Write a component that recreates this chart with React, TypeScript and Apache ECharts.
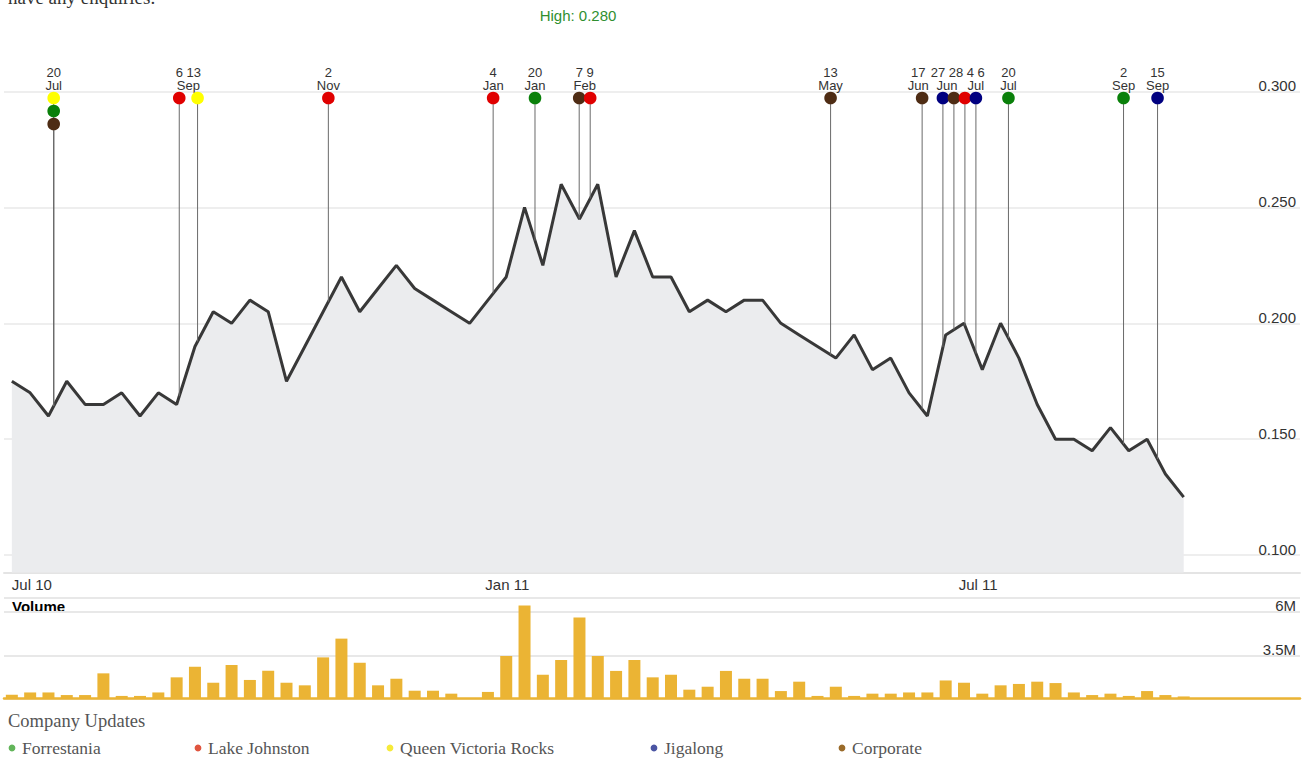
import React, { useEffect, useRef } from 'react';
import * as echarts from 'echarts';

// ---------- data ----------
const startDate = '2010-07-04'; // first weekly close
const closePrices = [
  0.175, 0.170, 0.160, 0.175, 0.165, 0.165, 0.170, 0.160, 0.170, 0.165,
  0.190, 0.205, 0.200, 0.210, 0.205, 0.175, 0.190, 0.205, 0.220, 0.205,
  0.215, 0.225, 0.215, 0.210, 0.205, 0.200, 0.210, 0.220, 0.250, 0.225,
  0.260, 0.245, 0.260, 0.220, 0.240, 0.220, 0.220, 0.205, 0.210, 0.205,
  0.210, 0.210, 0.200, 0.195, 0.190, 0.185, 0.195, 0.180, 0.185, 0.170,
  0.160, 0.195, 0.200, 0.180, 0.200, 0.185, 0.165, 0.150, 0.150, 0.145,
  0.155, 0.145, 0.150, 0.135, 0.125,
];
const volumesM = [
  1.23, 1.36, 1.36, 1.21, 1.21, 2.46, 1.16, 1.16, 1.36, 2.23,
  2.84, 1.92, 2.94, 2.08, 2.61, 1.92, 1.77, 3.38, 4.46, 3.07,
  1.77, 2.15, 1.46, 1.46, 1.29, 1.02, 1.39, 3.46, 6.37, 2.38,
  3.23, 5.68, 3.46, 2.60, 3.23, 2.23, 2.38, 1.52, 1.69, 2.60,
  2.15, 2.15, 1.44, 1.98, 1.16, 1.69, 1.16, 1.29, 1.29, 1.36,
  1.36, 2.05, 1.92, 1.29, 1.77, 1.85, 1.98, 1.90, 1.36, 1.21,
  1.29, 1.16, 1.44, 1.21, 1.13,
];
const xLabelDates = ['2010-07-04', '2011-01-01', '2011-07-01'];
const xAxisMinDate = '2010-07-01';
const xAxisMaxDate = '2011-11-08T11:00:00';
const priceMin = 0.0925;
const priceMax = 0.3;
const priceTicks = [0.1, 0.15, 0.2, 0.25, 0.3];
const volumeMin = 1e6;
const volumeMax = 6.8e6;
const volumeTicks = [1e6, 3.5e6, 6e6, 6.8e6];
const volumeLabelValues = [3.5e6, 6e6];
const highPrice = 0.28;
const lowPrice = 0.12;

const categories = ['Forrestania', 'Lake Johnston', 'Queen Victoria Rocks', 'Jigalong', 'Corporate'];
const pinColors = ['#0a800a', '#e00000', '#ffff00', '#000080', '#4e2c14'];
const legendColors = ['#62b55a', '#e0553f', '#f6ea3a', '#4b55a3', '#9a6b2a'];

const eventDates = [
  '2010-07-20', '2010-07-20', '2010-07-20', '2010-09-06', '2010-09-13', '2010-11-02',
  '2011-01-04', '2011-01-20', '2011-02-07', '2011-02-09', '2011-05-13', '2011-06-17',
  '2011-06-27', '2011-06-28', '2011-07-04', '2011-07-06', '2011-07-20', '2011-09-02', '2011-09-15',
];
const eventCategory = [2, 0, 4, 1, 2, 1, 1, 0, 4, 1, 4, 4, 3, 4, 1, 3, 0, 0, 3];
const eventLabelGroup = [0, 0, 0, 1, 1, 2, 3, 4, 5, 5, 6, 7, 8, 8, 9, 9, 10, 11, 12];

// ---------- helpers ----------
const DAY = 86400000;
const MONTHS = ['Jan', 'Feb', 'Mar', 'Apr', 'May', 'Jun', 'Jul', 'Aug', 'Sep', 'Oct', 'Nov', 'Dec'];
const toTs = (s: string) => Date.parse(s.length > 10 ? s + 'Z' : s + 'T00:00:00Z');
const SANS = '"Liberation Sans", Arial, sans-serif';
const SERIF = '"Liberation Serif", "Times New Roman", serif';

const weekTs = closePrices.map((_, i) => toTs(startDate) + i * 7 * DAY);
const eventTs = eventDates.map(toTs);

// spread 1-D items so they do not overlap, keeping clusters centred on their anchors
function spread(anchors: number[], widths: number[], gap: number): number[] {
  type C = { items: number[]; width: number; center: number };
  const cs: C[] = anchors.map((a, i) => ({ items: [i], width: widths[i], center: a }));
  let changed = true;
  while (changed) {
    changed = false;
    for (let k = 0; k < cs.length - 1; k++) {
      const A = cs[k];
      const B = cs[k + 1];
      if (A.center + A.width / 2 + gap > B.center - B.width / 2) {
        const items = A.items.concat(B.items);
        const width = A.width + gap + B.width;
        const center = items.reduce((s, i) => s + anchors[i], 0) / items.length;
        cs.splice(k, 2, { items, width, center });
        changed = true;
        break;
      }
    }
  }
  const out: number[] = [];
  cs.forEach((c) => {
    let left = c.center - c.width / 2;
    c.items.forEach((i) => {
      out[i] = left + widths[i] / 2;
      left += widths[i] + gap;
    });
  });
  return out;
}

function buildOption() {
  // unique event dates (equal dates are consecutive)
  const uniqOf: number[] = [];
  const uniqFirst: number[] = [];
  eventTs.forEach((t, i) => {
    if (i === 0 || t !== eventTs[i - 1]) uniqFirst.push(i);
    uniqOf[i] = uniqFirst.length - 1;
  });
  // label groups: days of the group's dates over one shared month
  const groupIds: number[] = [];
  eventLabelGroup.forEach((g) => {
    if (groupIds.indexOf(g) < 0) groupIds.push(g);
  });
  const groupUniq = groupIds.map((g) => {
    const us: number[] = [];
    eventLabelGroup.forEach((gg, j) => {
      if (gg === g && us.indexOf(uniqOf[j]) < 0) us.push(uniqOf[j]);
    });
    return us;
  });
  const groupText = groupUniq.map((us) => {
    const days = us.map((u) => String(new Date(eventTs[uniqFirst[u]]).getUTCDate())).join(' ');
    const month = MONTHS[new Date(eventTs[uniqFirst[us[0]]]).getUTCMonth()];
    return { days, month };
  });
  const groupWidth = groupText.map(({ days, month }) => {
    const dw = days.replace(/ /g, '').length * 7.23 + (days.split(' ').length - 1) * 3.61;
    return Math.max(dw, month.length * 7);
  });

  let pinX: number[] = [];
  let groupX: number[] = [];
  let priceAtX = (x: number) => 0;

  const layout = (api: any) => {
    const anchors = uniqFirst.map((i) => api.coord([eventTs[i], priceMax])[0]);
    pinX = spread(anchors, anchors.map(() => 11), 0);
    const gAnch = groupUniq.map((us) => us.reduce((s, u) => s + pinX[u], 0) / us.length);
    groupX = spread(gAnch, groupWidth, 2);
    const n = weekTs.length;
    const xA = api.coord([weekTs[0], priceMax])[0];
    const xB = api.coord([weekTs[n - 1], priceMax])[0];
    priceAtX = (x: number) => {
      const f = ((x - xA) / (xB - xA)) * (n - 1);
      const k = Math.max(0, Math.min(n - 2, Math.floor(f)));
      const r = Math.max(0, Math.min(1, f - k));
      return closePrices[k] * (1 - r) + closePrices[k + 1] * r;
    };
  };

  const renderPin = (params: any, api: any) => {
    const i = params.dataIndex;
    if (i === 0 || pinX.length === 0) layout(api);
    const u = uniqOf[i];
    const x = pinX[u];
    const t = api.value(0);
    const yTop = api.coord([t, priceMax])[1];
    const yEnd = api.coord([t, priceAtX(x)])[1];
    let stack = 0;
    for (let j = 0; j < i; j++) if (eventTs[j] === eventTs[i]) stack++;
    const cy = yTop + 6.5 + stack * 13;
    const children: any[] = [
      {
        type: 'line',
        shape: { x1: x, y1: cy, x2: x, y2: yEnd },
        style: { stroke: '#6a6a6a', lineWidth: 1 },
      },
      {
        type: 'circle',
        shape: { cx: x, cy, r: 6.3 },
        style: { fill: pinColors[eventCategory[i]] },
      },
    ];
    const g = eventLabelGroup[i];
    if (i === 0 || eventLabelGroup[i - 1] !== g) {
      const gi = groupIds.indexOf(g);
      children.push({
        type: 'text',
        x: groupX[gi],
        y: yTop - 12.5,
        style: {
          text: groupText[gi].days + '\n' + groupText[gi].month,
          font: `13px ${SANS}`,
          lineHeight: 12.3,
          fill: '#333',
          align: 'center',
          verticalAlign: 'middle',
        },
      });
    }
    return { type: 'group', children };
  };

  const legendX = [12, 198, 390, 654, 842];
  const legendGraphics: any[] = [];
  categories.forEach((c, i) => {
    legendGraphics.push({
      type: 'circle',
      shape: { cx: legendX[i], cy: 748, r: 3.4 },
      style: { fill: legendColors[i] },
    });
    legendGraphics.push({
      type: 'text',
      x: legendX[i] + 10,
      y: 748,
      style: { text: c, font: `17.5px ${SERIF}`, fill: '#555', verticalAlign: 'middle' },
    });
  });

  const xMin = toTs(xAxisMinDate);
  const xMax = toTs(xAxisMaxDate);

  return {
    animation: false,
    backgroundColor: '#ffffff',
    textStyle: { fontFamily: SANS },
    grid: [
      { left: 4, right: 8, top: 91.5, height: 481 },
      { left: 4, right: 8, top: 598, height: 100.7 },
    ],
    xAxis: [
      {
        type: 'value',
        gridIndex: 0,
        min: xMin,
        max: xMax,
        axisLine: { show: true, lineStyle: { color: '#e4e4e4', width: 2 } },
        axisTick: { show: false },
        splitLine: { show: false },
        axisLabel: {
          customValues: xLabelDates.map(toTs),
          formatter: (v: number) => {
            const d = new Date(v);
            return MONTHS[d.getUTCMonth()] + ' ' + String(d.getUTCFullYear()).slice(2);
          },
          align: 'left',
          fontSize: 15,
          fontFamily: SANS,
          color: '#333',
          margin: 4,
        },
      },
      {
        type: 'value',
        gridIndex: 1,
        min: xMin,
        max: xMax,
        axisLine: { show: true, onZero: false, lineStyle: { color: '#ebb434', width: 2.5 } },
        axisTick: { show: false },
        axisLabel: { show: false },
        splitLine: { show: false },
      },
    ],
    yAxis: [
      {
        type: 'value',
        gridIndex: 0,
        position: 'right',
        min: priceMin,
        max: priceMax,
        axisLine: { show: false },
        axisTick: { show: false, customValues: priceTicks },
        splitLine: { show: true, lineStyle: { color: '#e8e8e8', width: 1.5 } },
        axisLabel: {
          customValues: priceTicks,
          inside: true,
          formatter: (v: number) => v.toFixed(3),
          verticalAlign: 'bottom',
          lineHeight: 12,
          margin: 4,
          fontSize: 15,
          fontFamily: SANS,
          color: '#333',
        },
      },
      {
        type: 'value',
        gridIndex: 1,
        position: 'right',
        min: volumeMin,
        max: volumeMax,
        axisLine: { show: false },
        axisTick: { show: false, customValues: volumeTicks },
        splitLine: { show: true, lineStyle: { color: '#e8e8e8', width: 2 } },
        axisLabel: {
          customValues: volumeLabelValues,
          inside: true,
          formatter: (v: number) => v / 1e6 + 'M',
          verticalAlign: 'bottom',
          lineHeight: 12,
          margin: 4,
          fontSize: 15,
          fontFamily: SANS,
          color: '#333',
        },
      },
    ],
    series: [
      {
        type: 'line',
        xAxisIndex: 0,
        yAxisIndex: 0,
        data: weekTs.map((t, i) => [t, closePrices[i]]),
        showSymbol: false,
        symbol: 'none',
        lineStyle: { color: '#383838', width: 3 },
        areaStyle: { color: '#ebecee', opacity: 1 },
        z: 3,
      },
      {
        type: 'custom',
        xAxisIndex: 0,
        yAxisIndex: 0,
        clip: false,
        z: 4,
        data: eventTs.map((t) => [t, priceMax]),
        renderItem: renderPin,
      },
      {
        type: 'bar',
        xAxisIndex: 1,
        yAxisIndex: 1,
        data: weekTs.map((t, i) => [t, volumesM[i] * 1e6]),
        barWidth: 12,
        itemStyle: { color: '#ebb434' },
      },
    ],
    graphic: [
      {
        type: 'text',
        x: 8,
        y: 7,
        style: { text: 'have any enquiries.', font: `19px ${SERIF}`, fill: '#333', verticalAlign: 'bottom' },
      },
      {
        type: 'text',
        x: 578,
        y: 15,
        style: {
          text: 'High: ' + highPrice.toFixed(3),
          font: `15px ${SANS}`,
          fill: '#2f8f2f',
          align: 'center',
          verticalAlign: 'middle',
        },
      },
      {
        type: 'text',
        x: 1181,
        y: 563,
        style: {
          text: 'Low: ' + lowPrice.toFixed(3),
          font: `15px ${SANS}`,
          fill: '#c41a1a',
          align: 'right',
          verticalAlign: 'middle',
        },
      },
      {
        type: 'text',
        x: 12,
        y: 606,
        style: { text: 'Volume', font: `bold 15px ${SANS}`, fill: '#000', verticalAlign: 'middle' },
      },
      {
        type: 'text',
        x: 8,
        y: 721,
        style: { text: 'Company Updates', font: `18.5px ${SERIF}`, fill: '#555', verticalAlign: 'middle' },
      },
      ...legendGraphics,
    ],
  };
}

export default function App() {
  const ref = useRef<HTMLDivElement>(null);
  useEffect(() => {
    if (!ref.current) return;
    const chart = echarts.init(ref.current, undefined, { renderer: 'svg' });
    chart.setOption(buildOption() as any);
    return () => chart.dispose();
  }, []);
  return (
    <div
      ref={ref}
      style={{ position: 'absolute', left: 0, top: 0, width: 1308, height: 758, background: '#fff' }}
    />
  );
}
